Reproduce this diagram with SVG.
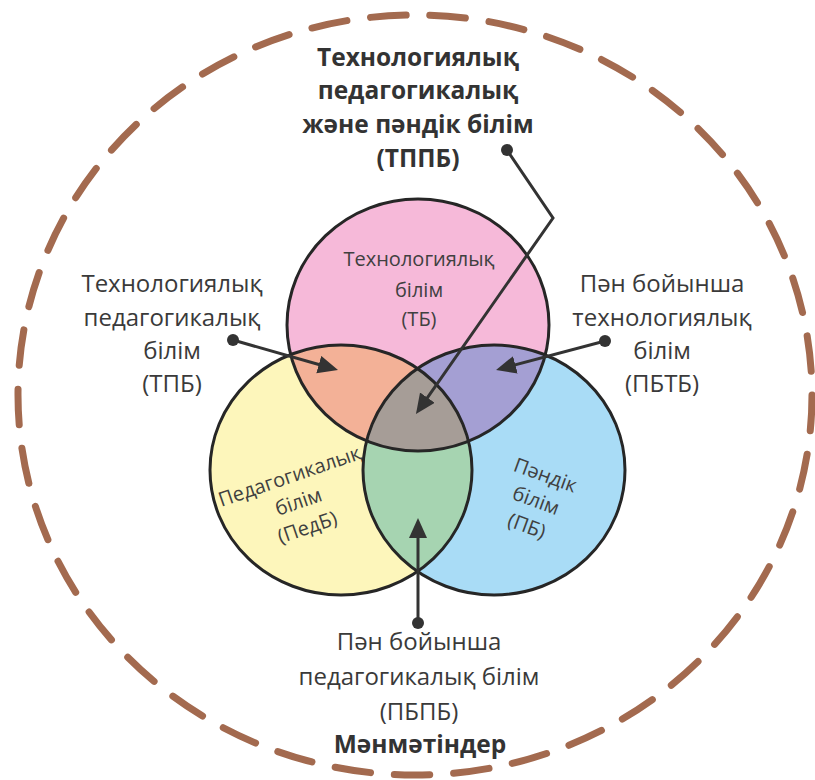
<svg xmlns="http://www.w3.org/2000/svg" width="815" height="780" viewBox="0 0 815 780">
<style>
.t{font-family:"Open Sans","Noto Sans","DejaVu Sans",sans-serif;fill:#3a3a3a;text-anchor:middle}
.lbl{font-size:24px}
.b{font-size:24.5px;font-weight:bold;fill:#333}
.c{font-size:20px;fill:#404040}
.ol{fill:none;stroke:#262626;stroke-width:3}
.con{fill:none;stroke:#333;stroke-width:3;marker-end:url(#ah)}
.dot{fill:#333}
</style>
<defs>
<clipPath id="cT"><ellipse cx="418" cy="325" rx="131" ry="126"/></clipPath>
<clipPath id="cL"><ellipse cx="341" cy="470" rx="131" ry="125"/></clipPath>
<clipPath id="cR"><ellipse cx="494" cy="470" rx="131" ry="125"/></clipPath>
<marker id="ah" markerUnits="userSpaceOnUse" markerWidth="22" markerHeight="20" refX="10" refY="9" orient="auto" viewBox="0 0 22 20">
<path d="M0,0 L20,9 L0,18 z" fill="#333"/>
</marker>
</defs>
<rect width="815" height="780" fill="#ffffff"/>
<g id="context">
<ellipse cx="415" cy="395" rx="397" ry="380" fill="none" stroke="#a36a4f" stroke-width="7" stroke-linecap="round" pathLength="41" stroke-dasharray="0.6 0.4"/>
<text class="t b" x="420" y="753">Мәнмәтіндер</text>
</g>
<g id="regions">
<ellipse cx="418" cy="325" rx="131" ry="126" fill="#f6b9d9"/>
<ellipse cx="341" cy="470" rx="131" ry="125" fill="#fdf6bb"/>
<ellipse cx="494" cy="470" rx="131" ry="125" fill="#a9dcf6"/>
<ellipse cx="341" cy="470" rx="131" ry="125" fill="#f3b197" clip-path="url(#cT)"/>
<ellipse cx="494" cy="470" rx="131" ry="125" fill="#a49fd3" clip-path="url(#cT)"/>
<ellipse cx="494" cy="470" rx="131" ry="125" fill="#a6d4b1" clip-path="url(#cL)"/>
<g clip-path="url(#cR)"><ellipse cx="418" cy="325" rx="131" ry="126" fill="#a69d97" clip-path="url(#cL)"/></g>
</g>
<g id="node-tb">
<ellipse class="ol" cx="418" cy="325" rx="131" ry="126"/>
<text class="t c" x="419" y="266">Технологиялық</text>
<text class="t c" x="419" y="297">білім</text>
<text class="t c" x="419" y="326">(ТБ)</text>
</g>
<g id="node-pedb">
<ellipse class="ol" cx="341" cy="470" rx="131" ry="125"/>
<g transform="translate(290,477) rotate(-19)">
<text class="t c" x="0" y="6">Педагогикалық</text>
<text class="t c" x="0" y="33">білім</text>
<text class="t c" x="0" y="60">(ПедБ)</text>
</g>
</g>
<g id="node-pb">
<ellipse class="ol" cx="494" cy="470" rx="131" ry="125"/>
<g transform="translate(545,476) rotate(20)">
<text class="t c" x="0" y="6">Пәндік</text>
<text class="t c" x="0" y="33">білім</text>
<text class="t c" x="0" y="60">(ПБ)</text>
</g>
</g>
<g id="node-tppb">
<text class="t b" x="418" y="66">Технологиялық</text>
<text class="t b" x="418" y="99">педагогикалық</text>
<text class="t b" x="418" y="133">және пәндік білім</text>
<text class="t b" x="418" y="167">(ТППБ)</text>
</g>
<g id="node-tpb">
<text class="t lbl" x="172" y="292">Технологиялық</text>
<text class="t lbl" x="172" y="326">педагогикалық</text>
<text class="t lbl" x="172" y="359">білім</text>
<text class="t lbl" x="172" y="392">(ТПБ)</text>
</g>
<g id="node-pbtb">
<text class="t lbl" x="662" y="292">Пән бойынша</text>
<text class="t lbl" x="662" y="326">технологиялық</text>
<text class="t lbl" x="662" y="359">білім</text>
<text class="t lbl" x="662" y="392">(ПБТБ)</text>
</g>
<g id="node-pbpb">
<text class="t lbl" x="419" y="650">Пән бойынша</text>
<text class="t lbl" x="419" y="685">педагогикалық білім</text>
<text class="t lbl" x="419" y="720">(ПБПБ)</text>
</g>
<g id="connectors">
<polyline class="con" points="507,150 553,218 421.7,405.8"/>
<circle class="dot" cx="507" cy="150" r="6"/>
<line class="con" x1="233" y1="340" x2="328.4" y2="367.3"/>
<circle class="dot" cx="233" cy="340" r="6"/>
<line class="con" x1="605" y1="341" x2="505.7" y2="367.4"/>
<circle class="dot" cx="605" cy="341" r="6"/>
<line class="con" x1="418" y1="623" x2="418" y2="528"/>
<circle class="dot" cx="418" cy="623" r="6"/>
</g>
</svg>
